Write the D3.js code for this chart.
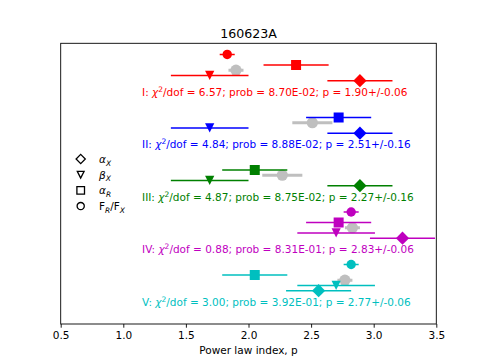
<!DOCTYPE html>
<html>
<head>
<meta charset="utf-8">
<script src="https://cdn.jsdelivr.net/npm/d3@7"></script>
<style>
body { margin: 0; background: #fff; }
text { font-family: "DejaVu Sans", sans-serif; }
</style>
</head>
<body>
<div id="chart"></div>
<script>
var w = 485;
var h = 364;
var plot = {left: 60.7, right: 436.3, top: 43.3, bottom: 324};

var title = "160623A";
var xLabel = "Power law index, p";
var xTicks = [0.5, 1.0, 1.5, 2.0, 2.5, 3.0, 3.5];

// one entry per segment I..V
var groups = ["I", "II", "III", "IV", "V"];
var colors = ["#ff0000", "#0000ff", "#008000", "#bf00bf", "#00bfbf"];
var alphaX = [2.89, 2.89, 2.89, 3.23, 2.56];
var alphaXErr = [0.26, 0.26, 0.26, 0.26, 0.26];
var betaX = [1.69, 1.69, 1.69, 2.70, 2.70];
var betaXErr = [0.31, 0.31, 0.31, 0.31, 0.31];
var alphaR = [2.38, 2.72, 2.05, 2.72, 2.05];
var alphaRErr = [0.26, 0.26, 0.26, 0.26, 0.26];
var ratio = [1.83, null, null, 2.82, 2.82];
var ratioErr = [0.06, null, null, 0.06, 0.06];
var fitP = [1.90, 2.51, 2.27, 2.83, 2.77];
var fitPErr = [0.06, 0.16, 0.16, 0.06, 0.06];
var chi2 = ["6.57", "4.84", "4.87", "0.88", "3.00"];
var prob = ["8.70E-02", "8.88E-02", "8.75E-02", "8.31E-01", "3.92E-01"];

var legendNames = ["alphaX", "betaX", "alphaR", "ratio"];

// vertical offset of each row inside a group (y units)
var rowOffset = {alphaX: 0, betaX: 0.1, fit: 0.2, alphaR: 0.3, ratio: 0.5, label: -0.29};
var markerOf = {alphaX: "diamond", betaX: "triangle", alphaR: "square", ratio: "circle"};

var x = d3.scaleLinear().domain([0.5, 3.5]).range([plot.left, plot.right]);
var y = d3.scaleLinear().domain([-0.634, 4.712]).range([plot.bottom, plot.top]);

var svg = d3.select("#chart")
	.append("svg")
	.attr("width", w)
	.attr("height", h);

svg.append("defs").append("clipPath")
	.attr("id", "clip")
	.append("rect")
	.attr("x", plot.left)
	.attr("y", plot.top)
	.attr("width", plot.right - plot.left)
	.attr("height", plot.bottom - plot.top);

function markerPath(type, r) {
	switch (type) {
		case "diamond":
			return "M0," + (-r) + "L" + r + ",0L0," + r + "L" + (-r) + ",0Z";
		case "square":
			return "M" + (-r) + "," + (-r) + "H" + r + "V" + r + "H" + (-r) + "Z";
		case "triangle":
			return "M0," + r + "L" + (-r) + "," + (-r) + "L" + r + "," + (-r) + "Z";
		case "circle":
			return "M" + r + ",0A" + r + "," + r + " 0 1,1 " + (-r) + ",0A" + r + "," + r + " 0 1,1 " + r + ",0Z";
	}
}

var markerSize = {diamond: 6.6, triangle: 4.6, square: 5, circle: 4.7};

var g = svg.append("g").attr("clip-path", "url(#clip)");

// build rows from the arrays
var fitRows = [];
var rows = [];
groups.forEach(function (name, i) {
	var base = groups.length - 1 - i;
	fitRows.push({v: fitP[i], e: fitPErr[i], y: base + rowOffset.fit});
	rows.push({key: "alphaX", v: alphaX[i], e: alphaXErr[i], y: base + rowOffset.alphaX, c: colors[i]});
	rows.push({key: "betaX", v: betaX[i], e: betaXErr[i], y: base + rowOffset.betaX, c: colors[i]});
	rows.push({key: "alphaR", v: alphaR[i], e: alphaRErr[i], y: base + rowOffset.alphaR, c: colors[i]});
	if (ratio[i] != null)
		rows.push({key: "ratio", v: ratio[i], e: ratioErr[i], y: base + rowOffset.ratio, c: colors[i]});
});

// grey fitted index first
g.selectAll(".fitbar")
	.data(fitRows)
	.enter()
	.append("line")
	.attr("x1", (d) => x(d.v - d.e))
	.attr("x2", (d) => x(d.v + d.e))
	.attr("y1", (d) => y(d.y))
	.attr("y2", (d) => y(d.y))
	.attr("stroke", "#bfbfbf")
	.attr("stroke-width", 3);

g.selectAll(".fitpt")
	.data(fitRows)
	.enter()
	.append("circle")
	.attr("cx", (d) => x(d.v))
	.attr("cy", (d) => y(d.y))
	.attr("r", 5.6)
	.attr("fill", "#bfbfbf");

g.selectAll(".bar")
	.data(rows)
	.enter()
	.append("line")
	.attr("x1", (d) => x(d.v - d.e))
	.attr("x2", (d) => x(d.v + d.e))
	.attr("y1", (d) => y(d.y))
	.attr("y2", (d) => y(d.y))
	.attr("stroke", (d) => d.c)
	.attr("stroke-width", 1.6);

g.selectAll(".pt")
	.data(rows)
	.enter()
	.append("path")
	.attr("transform", (d) => "translate(" + x(d.v) + "," + y(d.y) + ")")
	.attr("d", (d) => markerPath(markerOf[d.key], markerSize[markerOf[d.key]]))
	.attr("fill", (d) => d.c);

// group captions
groups.forEach(function (name, i) {
	var base = groups.length - 1 - i;
	var t = svg.append("text")
		.attr("x", x(1.15))
		.attr("y", y(base + rowOffset.label))
		.attr("fill", colors[i])
		.style("font-size", "10.5px");
	t.append("tspan").text(name + ": ");
	t.append("tspan").style("font-style", "italic").text("\u03c7");
	t.append("tspan").attr("dy", -4).style("font-size", "7.5px").text("2");
	t.append("tspan").attr("dy", 4).text("/dof = " + chi2[i] + "; prob = " + prob[i] +
		"; p = " + fitP[i].toFixed(2) + "+/-" + fitPErr[i].toFixed(2));
});

// frame
svg.append("rect")
	.attr("x", plot.left)
	.attr("y", plot.top)
	.attr("width", plot.right - plot.left)
	.attr("height", plot.bottom - plot.top)
	.attr("fill", "none")
	.attr("stroke", "#000")
	.attr("stroke-width", 0.9);

var axis = svg.append("g")
	.attr("transform", "translate(0," + plot.bottom + ")")
	.call(d3.axisBottom(x)
		.tickValues(xTicks)
		.tickFormat(d3.format(".1f"))
		.tickSize(3.7)
		.tickSizeOuter(0)
		.tickPadding(3.5));
axis.select(".domain").remove();
axis.selectAll("text")
	.style("font-family", "DejaVu Sans, sans-serif")
	.style("font-size", "10.5px")
	.attr("fill", "#000");
axis.selectAll("line").attr("stroke", "#000").attr("stroke-width", 0.9);

svg.append("text")
	.attr("x", (plot.left + plot.right) / 2)
	.attr("y", 354)
	.attr("text-anchor", "middle")
	.style("font-size", "10.5px")
	.text(xLabel);

svg.append("text")
	.attr("x", (plot.left + plot.right) / 2)
	.attr("y", 37.5)
	.attr("text-anchor", "middle")
	.style("font-size", "12.6px")
	.text(title);

// legend, open black markers
var legendSize = {diamond: 4.6, triangle: 3.4, square: 3.8, circle: 3.6};
var leg = svg.append("g");
legendNames.forEach(function (key, i) {
	var ly = 159 + i * 15.7;
	leg.append("path")
		.attr("transform", "translate(80.7," + ly + ")")
		.attr("d", markerPath(markerOf[key], legendSize[markerOf[key]]))
		.attr("fill", "#fff")
		.attr("stroke", "#000")
		.attr("stroke-width", 1.3);
	var t = leg.append("text")
		.attr("x", 99)
		.attr("y", ly + 4)
		.style("font-size", "10.5px");
	if (key == "ratio") {
		t.append("tspan").text("F");
		t.append("tspan").attr("dy", 2.5).style("font-size", "7.5px").style("font-style", "italic").text("R");
		t.append("tspan").attr("dy", -2.5).text("/F");
		t.append("tspan").attr("dy", 2.5).style("font-size", "7.5px").style("font-style", "italic").text("X");
	} else {
		t.append("tspan").style("font-style", "italic").text(key == "betaX" ? "\u03b2" : "\u03b1");
		t.append("tspan").attr("dy", 2.5).style("font-size", "7.5px").style("font-style", "italic")
			.text(key == "alphaR" ? "R" : "X");
	}
});
</script>
</body>
</html>
